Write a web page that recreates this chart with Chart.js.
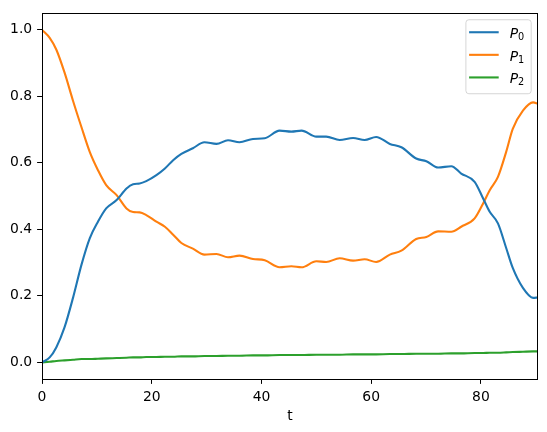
<!DOCTYPE html>
<html>
<head>
<meta charset="utf-8">
<script src="https://cdn.jsdelivr.net/npm/chart.js@4/dist/chart.umd.min.js"></script>
<style>
  html, body { margin: 0; padding: 0; background: #fff; }
  canvas { display: block; }
</style>
</head>
<body>
<canvas id="chart" width="547" height="432"></canvas>
<script>
// values
const tValues = [0, 1.4, 2.6, 4.1, 5.65, 7.2, 8.7, 10.2, 11.7, 13.6, 15.4, 16.6, 17.8, 19.0, 20.85,
  22.4, 23.9, 25.4, 27.5, 29.6, 31.8, 33.9, 36.0, 38.45, 40.6, 43.3, 45.45, 47.3, 50.0, 51.8,
  54.25, 56.7, 58.8, 60.9, 63.4, 65.5, 68.2, 70.05, 72.2, 74.6, 76.4, 78.85, 80.4, 81.6, 83.1,
  84.6, 85.8, 87.65, 89.5, 90.4];

const p0Values = [0, 0.015, 0.045, 0.105, 0.194, 0.294, 0.373, 0.423, 0.463, 0.488, 0.523, 0.536,
  0.538, 0.545, 0.563, 0.583, 0.608, 0.627, 0.644, 0.662, 0.657, 0.668, 0.662, 0.672, 0.674,
  0.697, 0.694, 0.697, 0.679, 0.679, 0.669, 0.675, 0.669, 0.678, 0.657, 0.647, 0.613, 0.605,
  0.586, 0.590, 0.568, 0.543, 0.493, 0.453, 0.418, 0.344, 0.284, 0.224, 0.194, 0.195];

const p1Values = [1.0, 0.976, 0.941, 0.872, 0.787, 0.707, 0.633, 0.578, 0.533, 0.503, 0.463, 0.452,
  0.451, 0.443, 0.423, 0.408, 0.384, 0.359, 0.342, 0.324, 0.326, 0.316, 0.321, 0.311, 0.307,
  0.286, 0.289, 0.286, 0.304, 0.302, 0.313, 0.306, 0.310, 0.302, 0.324, 0.336, 0.371, 0.377,
  0.394, 0.393, 0.408, 0.433, 0.478, 0.518, 0.558, 0.633, 0.702, 0.757, 0.782, 0.778];

const p2Values = [0, 0.002, 0.004, 0.006, 0.008, 0.010, 0.010, 0.011, 0.012, 0.013, 0.014, 0.015,
  0.015, 0.016, 0.016, 0.017, 0.017, 0.018, 0.018, 0.019, 0.019, 0.020, 0.020, 0.021, 0.021,
  0.022, 0.022, 0.022, 0.023, 0.023, 0.023, 0.024, 0.024, 0.024, 0.025, 0.025, 0.026, 0.026,
  0.026, 0.027, 0.027, 0.028, 0.028, 0.029, 0.029, 0.030, 0.031, 0.032, 0.033, 0.033];

const seriesLabels = ["P_0", "P_1", "P_2"];
const seriesColors = ["#1f77b4", "#ff7f0e", "#2ca02c"];
const xTicks = [0, 20, 40, 60, 80];
const yTicks = [0, 0.2, 0.4, 0.6, 0.8, 1.0];
const xLabel = "t";

const FONT = "'DejaVu Sans', sans-serif";
const FS = 13.9;

function toPoints(ys) {
  return tValues.map((t, i) => ({ x: t, y: ys[i] }));
}

// matplotlib-like box around the axes
const framePlugin = {
  id: "frame",
  afterDraw(chart) {
    const { ctx, chartArea: a } = chart;
    ctx.save();
    ctx.strokeStyle = "#000";
    ctx.lineWidth = 1;
    ctx.strokeRect(Math.round(a.left) + 0.5, Math.round(a.top) + 0.5,
      Math.round(a.right - a.left) - 1, Math.round(a.bottom - a.top));
    ctx.restore();
  }
};

// legend with italic P and subscript digit
const legendPlugin = {
  id: "mplLegend",
  afterDraw(chart) {
    const { ctx, chartArea: a } = chart;
    const w = 65.3, h = 74;
    const x = a.right - 7.3 - w;
    const y = a.top + 6;
    ctx.save();
    ctx.beginPath();
    ctx.roundRect(x + 0.5, y + 0.5, w, h, 3);
    ctx.fillStyle = "rgba(255,255,255,0.8)";
    ctx.fill();
    ctx.strokeStyle = "rgba(204,204,204,0.8)";
    ctx.lineWidth = 1;
    ctx.stroke();

    seriesLabels.forEach((lab, i) => {
      const [base, sub] = lab.split("_");
      const cy = y + 13 + i * 22.6;
      ctx.beginPath();
      ctx.moveTo(x + 3.7, cy);
      ctx.lineTo(x + 33.3, cy);
      ctx.strokeStyle = seriesColors[i];
      ctx.lineWidth = 2.1;
      ctx.stroke();

      ctx.fillStyle = "#000";
      ctx.textBaseline = "alphabetic";
      ctx.textAlign = "left";
      ctx.font = "italic " + FS + "px " + FONT;
      const tx = x + 44.3;
      ctx.fillText(base, tx, cy + 6);
      const bw = ctx.measureText(base).width;
      ctx.font = (FS * 0.7).toFixed(2) + "px " + FONT;
      ctx.fillText(sub, tx + bw, cy + 7.8);
    });
    ctx.restore();
  }
};

const ctx = document.getElementById("chart");

new Chart(ctx, {
  type: "line",
  data: {
    datasets: [p0Values, p1Values, p2Values].map((vals, i) => ({
      label: seriesLabels[i],
      data: toPoints(vals),
      borderColor: seriesColors[i],
      backgroundColor: seriesColors[i],
      borderWidth: 2.1,
      pointRadius: 0,
      fill: false,
      cubicInterpolationMode: "monotone"
    }))
  },
  options: {
    responsive: false,
    devicePixelRatio: 1,
    animation: false,
    layout: { padding: { top: 10, right: 9, left: 0, bottom: 0 } },
    plugins: {
      legend: { display: false },
      tooltip: { enabled: false }
    },
    scales: {
      x: {
        type: "linear",
        min: 0,
        max: 90.4,
        afterBuildTicks: s => { s.ticks = xTicks.map(v => ({ value: v })); },
        afterFit: s => { s.height = 53; },
        ticks: {
          color: "#000",
          font: { family: FONT, size: FS },
          padding: 4.9,
          maxRotation: 0,
          callback: v => String(v)
        },
        grid: {
          drawOnChartArea: false,
          drawTicks: true,
          tickLength: 4.9,
          tickColor: "#000",
          tickWidth: 1
        },
        border: { display: false },
        title: {
          display: true,
          text: xLabel,
          color: "#000",
          font: { family: FONT, size: FS },
          padding: { top: 4, bottom: 7.5 }
        }
      },
      y: {
        type: "linear",
        min: -0.05,
        max: 1.05,
        afterBuildTicks: s => { s.ticks = yTicks.map(v => ({ value: v })); },
        afterFit: s => { s.width = 42; },
        ticks: {
          color: "#000",
          font: { family: FONT, size: FS },
          padding: 4.9,
          callback: v => Number(v).toFixed(1)
        },
        grid: {
          drawOnChartArea: false,
          drawTicks: true,
          tickLength: 4.9,
          tickColor: "#000",
          tickWidth: 1
        },
        border: { display: false }
      }
    }
  },
  plugins: [framePlugin, legendPlugin]
});
</script>
</body>
</html>
